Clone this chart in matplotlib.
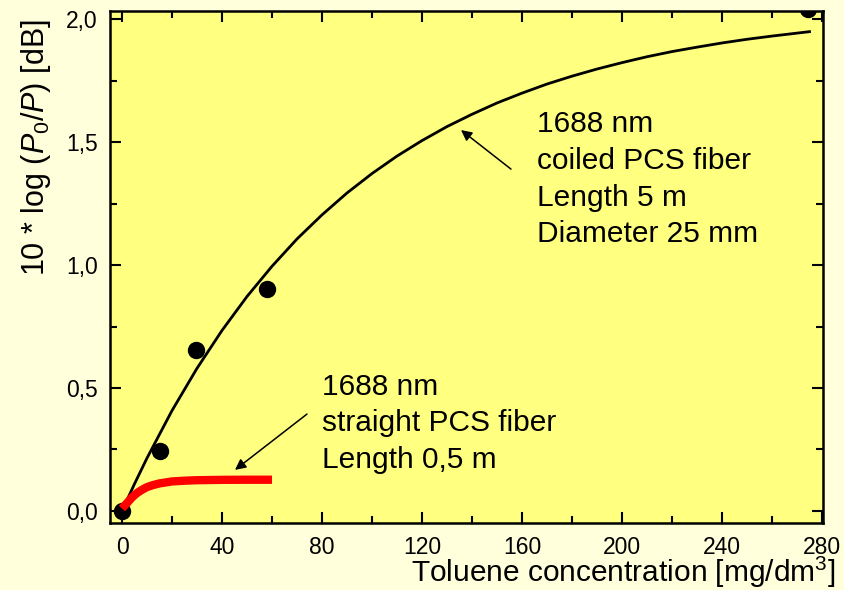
import matplotlib
matplotlib.use("Agg")
import matplotlib.pyplot as plt

plt.rcParams['font.family'] = ['Liberation Sans', 'DejaVu Sans']
plt.rcParams['mathtext.fontset'] = 'custom'
plt.rcParams['mathtext.rm'] = 'Liberation Sans'
plt.rcParams['mathtext.it'] = 'Liberation Sans:italic'

# measured points
meas_x = [0, 15, 29.6, 58, 274.5]
meas_y = [0.0, 0.245, 0.655, 0.902, 2.04]

# fitted curve (coiled fiber)
fit_x = [0, 5, 10, 20, 30, 40, 50, 60, 70, 80, 90, 100, 110, 120, 130, 140,
         150, 160, 170, 180, 190, 200, 210, 220, 230, 240, 250, 260, 275]
fit_y = [0.0, 0.110, 0.215, 0.408, 0.580, 0.734, 0.872, 0.995, 1.106, 1.204,
         1.293, 1.372, 1.443, 1.506, 1.563, 1.613, 1.659, 1.699, 1.736, 1.768,
         1.797, 1.823, 1.847, 1.868, 1.886, 1.903, 1.918, 1.931, 1.949]

# straight fiber curve
red_x = [0, 2, 4, 6, 8, 10, 12, 15, 20, 25, 30, 40, 50, 60]
red_y = [0.010, 0.032, 0.055, 0.073, 0.086, 0.097, 0.104, 0.112, 0.120,
         0.123, 0.125, 0.1265, 0.127, 0.127]

xticks = [0, 40, 80, 120, 160, 200, 240, 280]
xtick_labels = ['0', '40', '80', '120', '160', '200', '240', '280']
yticks = [0.0, 0.5, 1.0, 1.5, 2.0]
ytick_labels = ['0,0', '0,5', '1,0', '1,5', '2,0']

coiled_lines = ['1688 nm', 'coiled PCS fiber', 'Length 5 m', 'Diameter 25 mm']
straight_lines = ['1688 nm', 'straight PCS fiber', 'Length 0,5 m']

fig = plt.figure(figsize=(8.44, 5.90), dpi=100, facecolor='#FFFFDC')
ax = fig.add_axes([110/844, 1-523/590, (823-110)/844, (523-11)/590])
ax.set_facecolor('#FFFF80')

ax.plot(fit_x, fit_y, color='black', lw=2.0, zorder=3)
ax.plot(meas_x, meas_y, 'o', color='black', markersize=11.5, zorder=4)
ax.plot(red_x, red_y, color='#FF0000', lw=6, solid_capstyle='butt', zorder=5)

ax.set_xlim(-4.8, 280.4)
ax.set_ylim(-0.049, 2.033)
ax.set_xticks(xticks)
ax.set_xticklabels(xtick_labels)
ax.set_yticks(yticks)
ax.set_yticklabels(ytick_labels)
ax.set_xticks([20, 60, 100, 140, 180, 220, 260], minor=True)
ax.set_yticks([0.25, 0.75, 1.25, 1.75], minor=True)
ax.tick_params(which='both', direction='in', top=True, right=True,
               labelsize=16.5, width=1.5, colors='black')
ax.tick_params(which='major', length=8, pad=9)
ax.tick_params(which='minor', length=5)
for s in ax.spines.values():
    s.set_linewidth(1.8)

# texts
for i, t in enumerate(coiled_lines):
    yb = 1.541 - i * 0.1495
    ax.text(166, yb, t, fontsize=21.5, va='baseline', ha='left')
for i, t in enumerate(straight_lines):
    yb = 0.472 - i * 0.1485
    ax.text(80, yb, t, fontsize=21.5, va='baseline', ha='left')

ax.annotate('', xy=(135.6, 1.549), xytext=(155.6, 1.390),
            arrowprops=dict(arrowstyle='-|>', color='black', lw=1.1,
                            mutation_scale=16, shrinkA=0, shrinkB=0))
ax.annotate('', xy=(45.2, 0.167), xytext=(74, 0.394),
            arrowprops=dict(arrowstyle='-|>', color='black', lw=1.1,
                            mutation_scale=16, shrinkA=0, shrinkB=0))

fig.text(835/844, 1-582/590, r'Toluene concentration [mg/dm$^3$]',
         fontsize=21.5, ha='right', va='baseline')
fig.text(36/844, 1-148/590, r'10 * log ($P_{\mathit{0}}$/$P$) [dB]',
         fontsize=22, ha='center', va='center', rotation=90)

fig.savefig('out.png', dpi=100, facecolor=fig.get_facecolor())
